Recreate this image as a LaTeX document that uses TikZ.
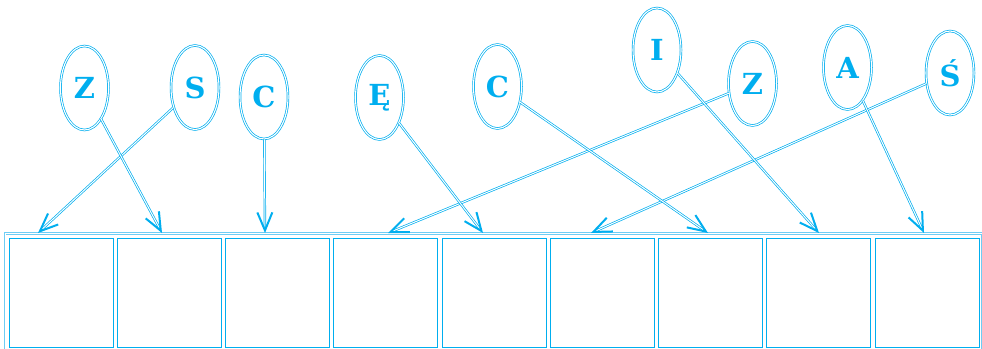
\documentclass[tikz,border=0pt]{standalone}
\usepackage{fontspec}
\setmainfont{DejaVu Serif}
\usetikzlibrary{shapes.geometric,arrows.meta}
\definecolor{cy}{RGB}{0,174,239}
\definecolor{cyl}{RGB}{110,205,245}
\tikzset{
  letter/.style={ellipse, draw=cy, double=white, line width=0.7pt, double distance=1.1pt,
    minimum width=48pt, minimum height=84pt, inner sep=0pt, text=cy,
    font=\fontsize{29}{30}\selectfont\bfseries},
  cell/.style={draw=cy, line width=0.9pt},
  link/.style={draw=cy, double=white, line width=0.7pt, double distance=1pt,
    -{Straight Barb[length=18pt,width=15pt,line width=2pt]}}
}
\begin{document}
\begin{tikzpicture}[x=1pt,y=-1pt]
\useasboundingbox (0,0) rectangle (982,348);
% outer frame
\draw[draw=cyl, double=white, line width=0.8pt, double distance=0.9pt] (5,233.5) rectangle (982,352);
% cells
\foreach \i in {0,...,8}{
  \draw[cell] ({9+108.25*\i},238) rectangle ({113+108.25*\i},347);
}
% targets
\coordinate (t1) at (38,233);
\coordinate (t2) at (162,233);
\coordinate (t3) at (265,233);
\coordinate (t4) at (388,233);
\coordinate (t5) at (483,233);
\coordinate (t6) at (591,233);
\coordinate (t7) at (708,233);
\coordinate (t8) at (819,233);
\coordinate (t9) at (924,233);
% letters
\node[letter] (z1) at (84.5,88) {Z};
\node[letter] (s)  at (195,87.5) {S};
\node[letter] (c1) at (264,97) {C};
\node[letter] (e)  at (379.5,97.5) {Ę};
\node[letter] (c2) at (497.5,86.5) {C};
\node[letter] (i)  at (657,50) {I};
\node[letter] (z2) at (752.5,83.5) {Z};
\node[letter] (a)  at (847.5,67.5) {A};
\node[letter] (ss) at (950,73) {Ś};
% connectors
\draw[link] (s) -- (t1);
\draw[link] (z1) -- (t2);
\draw[link] (c1) -- (t3);
\draw[link] (z2) -- (t4);
\draw[link] (e) -- (t5);
\draw[link] (ss) -- (t6);
\draw[link] (c2) -- (t7);
\draw[link] (i) -- (t8);
\draw[link] (a) -- (t9);
\end{tikzpicture}
\end{document}
